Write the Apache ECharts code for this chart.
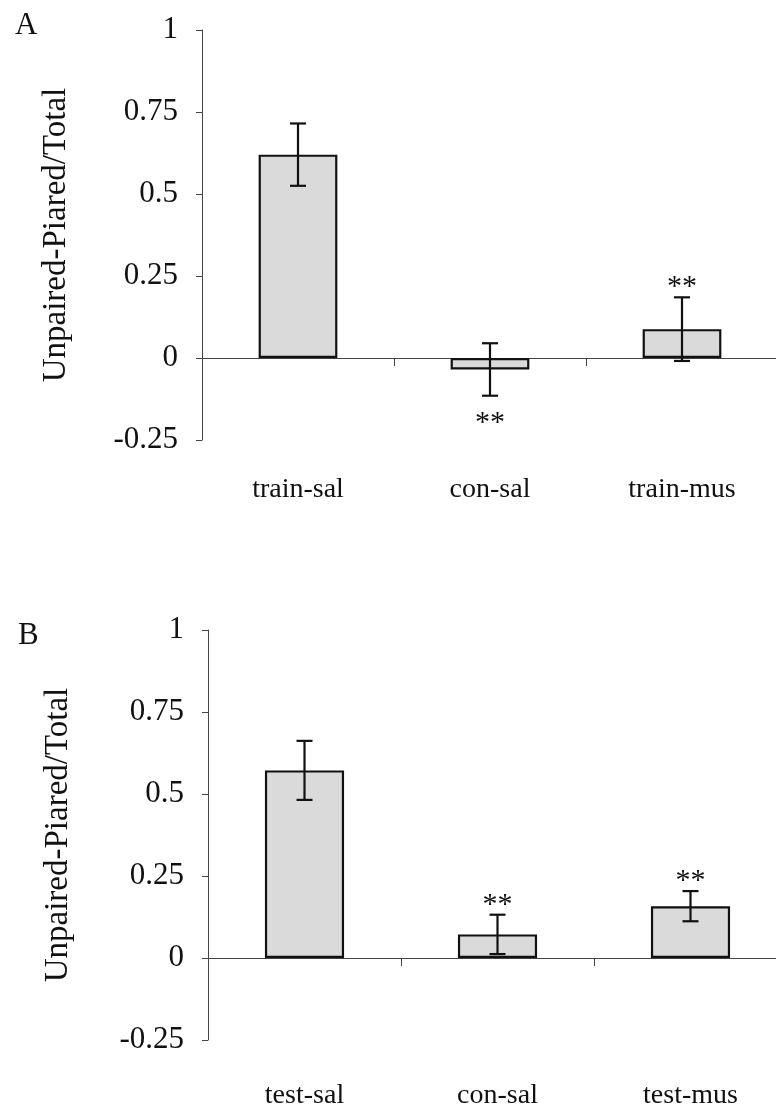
<!DOCTYPE html>
<html>
<head>
<meta charset="utf-8">
<script src="https://cdn.jsdelivr.net/npm/echarts@6/dist/echarts.min.js"></script>
<style>
  html, body { margin: 0; padding: 0; background: #fff; }
  #chart { width: 776px; height: 1118px; }
</style>
</head>
<body>
<div id="chart"></div>
<script>
// panel A
const catsA = ["train-sal", "con-sal", "train-mus"];
const meanA = [0.62, -0.035, 0.088];
const errA = [0.095, 0.08, 0.097];
const starsA = ["", "**", "**"];

// panel B
const catsB = ["test-sal", "con-sal", "test-mus"];
const meanB = [0.572, 0.072, 0.158];
const errB = [0.09, 0.06, 0.046];
const starsB = ["", "**", "**"];

const yName = "Unpaired-Piared/Total";
const serif = "Liberation Serif";

function errData(mean, err, stars) {
  let out = [];
  for (let i = 0; i < mean.length; i++) {
    out.push([i, mean[i] - err[i], mean[i] + err[i], mean[i], stars[i]]);
  }
  return out;
}

function renderErr(params, api) {
  const x = api.value(0);
  const lo = api.coord([x, api.value(1)]);
  const hi = api.coord([x, api.value(2)]);
  const mean = api.value(3);
  const star = api.value(4);
  const w = 8;
  const style = { stroke: "#111", lineWidth: 2.2 };
  let children = [
    { type: "line", shape: { x1: lo[0], y1: lo[1], x2: hi[0], y2: hi[1] }, style: style },
    { type: "line", shape: { x1: lo[0] - w, y1: lo[1], x2: lo[0] + w, y2: lo[1] }, style: style },
    { type: "line", shape: { x1: hi[0] - w, y1: hi[1], x2: hi[0] + w, y2: hi[1] }, style: style },
  ];
  if (star) {
    // stars go below the bar when the mean is negative
    const below = mean < 0;
    children.push({
      type: "text",
      style: {
        text: star,
        x: hi[0],
        y: below ? lo[1] + 12 : hi[1] - 25,
        align: "center",
        verticalAlign: "top",
        font: "30px '" + serif + "'",
        fill: "#111",
      },
    });
  }
  return { type: "group", children: children };
}

function xAxisOpt(cats, idx, margin) {
  return {
    type: "category",
    gridIndex: idx,
    data: cats,
    axisLine: { onZero: true, lineStyle: { color: "#444", width: 1 } },
    axisTick: { show: true, length: 8, lineStyle: { color: "#444" } },
    axisLabel: { margin: margin, fontFamily: serif, fontSize: 28, color: "#111" },
  };
}

function yAxisOpt(idx, gap) {
  return {
    type: "value",
    gridIndex: idx,
    min: -0.25,
    max: 1,
    interval: 0.25,
    name: yName,
    nameLocation: "middle",
    nameGap: gap,
    nameTextStyle: { fontFamily: serif, fontSize: 33, color: "#111" },
    axisLine: { show: true, lineStyle: { color: "#444", width: 1 } },
    axisTick: { show: true, length: 6, lineStyle: { color: "#444" } },
    axisLabel: { margin: 24, fontFamily: serif, fontSize: 31, color: "#111" },
    splitLine: { show: false },
  };
}

const barStyle = { color: "#dadada", borderColor: "#111", borderWidth: 2.2 };

let chart = echarts.init(document.getElementById("chart"));
let option = {
  animation: false,
  backgroundColor: "#fff",
  grid: [
    { left: 202, right: -2, top: 30, height: 410, outerBoundsMode: "none" },
    { left: 208, right: -11, top: 630, height: 410, outerBoundsMode: "none" },
  ],
  xAxis: [xAxisOpt(catsA, 0, 36), xAxisOpt(catsB, 1, 42)],
  yAxis: [yAxisOpt(0, 129), yAxisOpt(1, 133)],
  graphic: [
    { type: "text", left: 15, top: 10, style: { text: "A", font: "31px '" + serif + "'", fill: "#111" } },
    { type: "text", left: 18, top: 620, style: { text: "B", font: "31px '" + serif + "'", fill: "#111" } },
  ],
  series: [
    { type: "bar", xAxisIndex: 0, yAxisIndex: 0, data: meanA, barWidth: "41%", itemStyle: barStyle },
    { type: "custom", xAxisIndex: 0, yAxisIndex: 0, data: errData(meanA, errA, starsA), renderItem: renderErr, z: 3 },
    { type: "bar", xAxisIndex: 1, yAxisIndex: 1, data: meanB, barWidth: "41%", itemStyle: barStyle },
    { type: "custom", xAxisIndex: 1, yAxisIndex: 1, data: errData(meanB, errB, starsB), renderItem: renderErr, z: 3 },
  ],
};
chart.setOption(option);
</script>
</body>
</html>
